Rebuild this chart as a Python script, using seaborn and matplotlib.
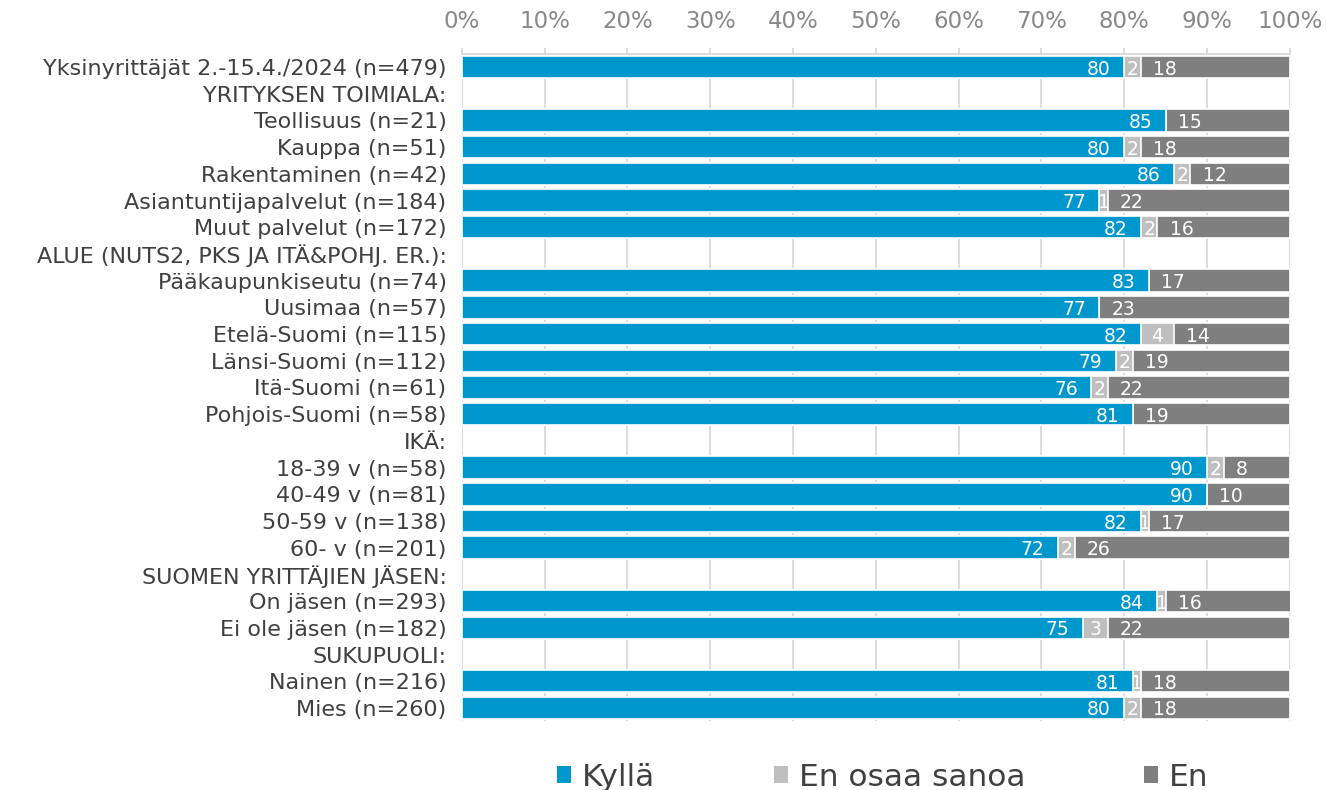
import numpy as np
import pandas as pd
import matplotlib
matplotlib.use('Agg')
import matplotlib.pyplot as plt
import seaborn as sns
from matplotlib.patches import Patch

nan = np.nan

categories = [
    'Yksinyrittäjät 2.-15.4./2024 (n=479)',
    'YRITYKSEN TOIMIALA:',
    'Teollisuus (n=21)',
    'Kauppa (n=51)',
    'Rakentaminen (n=42)',
    'Asiantuntijapalvelut (n=184)',
    'Muut palvelut (n=172)',
    'ALUE (NUTS2, PKS JA ITÄ&POHJ. ER.):',
    'Pääkaupunkiseutu (n=74)',
    'Uusimaa (n=57)',
    'Etelä-Suomi (n=115)',
    'Länsi-Suomi (n=112)',
    'Itä-Suomi (n=61)',
    'Pohjois-Suomi (n=58)',
    'IKÄ:',
    '18-39 v (n=58)',
    '40-49 v (n=81)',
    '50-59 v (n=138)',
    '60- v (n=201)',
    'SUOMEN YRITTÄJIEN JÄSEN:',
    'On jäsen (n=293)',
    'Ei ole jäsen (n=182)',
    'SUKUPUOLI:',
    'Nainen (n=216)',
    'Mies (n=260)',
]
kylla = [80, nan, 85, 80, 86, 77, 82, nan, 83, 77, 82, 79, 76, 81, nan, 90, 90, 82, 72, nan, 84, 75, nan, 81, 80]
eos = [2, nan, 0, 2, 2, 1, 2, nan, 0, 0, 4, 2, 2, 0, nan, 2, 0, 1, 2, nan, 1, 3, nan, 1, 2]
en = [18, nan, 15, 18, 12, 22, 16, nan, 17, 23, 14, 19, 22, 19, nan, 8, 10, 17, 26, nan, 16, 22, nan, 18, 18]

series_names = ['Kyllä', 'En osaa sanoa', 'En']
BLUE = '#0097CC'
LIGHT = '#BFBFBF'
DARK = '#7F7F7F'

df = pd.DataFrame({'group': categories, 'Kyllä': kylla, 'En osaa sanoa': eos, 'En': en})
df['cum_eos'] = df['Kyllä'] + df['En osaa sanoa']
df['cum_en'] = df['cum_eos'] + df['En']

sns.set_style('white')
plt.rcParams['font.family'] = ['DejaVu Sans']

fig = plt.figure(figsize=(13.27, 7.9), dpi=100)
ax = fig.add_axes([0.348, 0.087, 0.624, 0.845])
ax.set_axisbelow(True)
ax.grid(axis='x', color='#D9D9D9', linewidth=1.3)
ax.grid(axis='y', visible=False)

# stacked look: draw cumulative totals from back to front
for col, color in [('cum_en', DARK), ('cum_eos', LIGHT), ('Kyllä', BLUE)]:
    sns.barplot(data=df, x=col, y='group', order=categories, color=color,
                saturation=1, width=0.84, edgecolor='white', linewidth=1.2,
                errorbar=None, orient='h', ax=ax)

# value labels
for i, row in df.iterrows():
    k, e, n = row['Kyllä'], row['En osaa sanoa'], row['En']
    if np.isnan(k):
        continue
    kw = dict(color='white', fontsize=13.5, va='center_baseline')
    ax.text(k - 1.6, i, f'{k:.0f}', ha='right', **kw)
    if e > 0:
        ax.text(k + e / 2, i, f'{e:.0f}', ha='center', **kw)
    if n > 0:
        ax.text(k + e + 1.5, i, f'{n:.0f}', ha='left', **kw)

ax.set_xlim(0, 100)
ax.set_xticks(range(0, 101, 10))
ax.set_xticklabels([f'{v}%' for v in range(0, 101, 10)])
ax.xaxis.tick_top()
ax.set_xlabel('')
ax.set_ylabel('')
for side in ['left', 'right', 'bottom']:
    ax.spines[side].set_visible(False)
ax.spines['top'].set_color('#D9D9D9')
ax.spines['top'].set_linewidth(1.3)
ax.tick_params(axis='x', top=True, length=4.5, width=1.3, color='#D9D9D9',
               pad=10.5, labelcolor='#888888', labelsize=16.5)
ax.tick_params(axis='y', length=0, pad=11, labelcolor='#404040', labelsize=16)

handles = [Patch(facecolor=c, edgecolor='none') for c in [BLUE, LIGHT, DARK]]
fig.legend(handles, series_names, loc='center', bbox_to_anchor=(0.665, 0.016),
           ncol=3, frameon=False, fontsize=22.5, handlelength=0.45, handleheight=0.45,
           columnspacing=3.8, handletextpad=0.35, labelcolor='#404040')

fig.savefig('out.png', dpi=100)
